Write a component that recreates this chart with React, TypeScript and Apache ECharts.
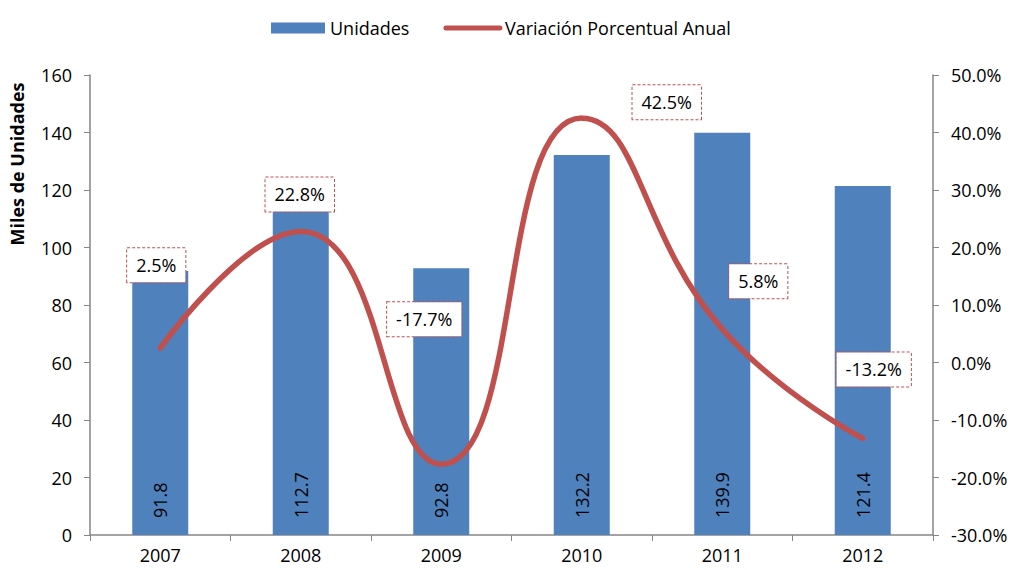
import React, { useEffect, useRef } from "react";
import * as echarts from "echarts";

const years = ["2007", "2008", "2009", "2010", "2011", "2012"];
const unidades = [91.8, 112.7, 92.8, 132.2, 139.9, 121.4];
const variacion = [2.5, 22.8, -17.7, 42.5, 5.8, -13.2];
const labelOffsets: [number, number][] = [
  [-4, -83],
  [-1, -37],
  [-17, -145],
  [85, -16],
  [36, -48],
  [11, -69],
];

const FONT = "'Open Sans', 'Noto Sans', sans-serif";
const AXIS_COLOR = "#868686";
const FS = 18;

export default function App() {
  const ref = useRef<HTMLDivElement>(null);
  useEffect(() => {
    if (!ref.current) return;
    const chart = echarts.init(ref.current, undefined, { renderer: "svg" });
    chart.setOption({
      animation: false,
      textStyle: { fontFamily: FONT },
      legend: {
        top: 14,
        left: 266,
        itemWidth: 54,
        itemHeight: 11,
        itemGap: 34,
        textStyle: { fontSize: FS, color: "#000", fontFamily: FONT },
        data: [
          { name: "Unidades", icon: "rect" },
          {
            name: "Variación Porcentual Anual",
            itemStyle: { opacity: 0 },
            lineStyle: { width: 5, cap: "round", color: "#C0504D" },
          },
        ],
      },
      graphic: [
        {
          type: "text",
          x: 17,
          y: 164,
          rotation: Math.PI / 2,
          style: {
            text: "Miles de Unidades",
            fontFamily: FONT,
            fontSize: FS,
            fontWeight: "bold",
            fill: "#000",
            textAlign: "center",
            textVerticalAlign: "middle",
          },
        },
      ],
      grid: { left: 90, right: 81, top: 75, bottom: 35 },
      xAxis: {
        type: "category",
        data: years,
        axisLine: { lineStyle: { color: AXIS_COLOR, width: 1.5 } },
        axisTick: { show: true, alignWithLabel: false, length: 6, lineStyle: { color: AXIS_COLOR } },
        axisLabel: { color: "#000", fontSize: FS, margin: 11, fontFamily: FONT },
      },
      yAxis: [
        {
          type: "value",
          min: 0,
          max: 160,
          interval: 20,
          splitLine: { show: false },
          axisLine: { show: true, lineStyle: { color: AXIS_COLOR, width: 1.5 } },
          axisTick: { show: true, length: 6, lineStyle: { color: AXIS_COLOR } },
          axisLabel: { color: "#000", fontSize: FS, margin: 18, fontFamily: FONT },
        },
        {
          type: "value",
          min: -30,
          max: 50,
          interval: 10,
          position: "right",
          splitLine: { show: false },
          axisLine: { show: true, lineStyle: { color: AXIS_COLOR, width: 1.5 } },
          axisTick: { show: true, length: 6, lineStyle: { color: AXIS_COLOR } },
          axisLabel: {
            color: "#000",
            fontSize: FS,
            margin: 18,
            fontFamily: FONT,
            formatter: (v: number) => v.toFixed(1) + "%",
          },
        },
      ],
      series: [
        {
          name: "Unidades",
          type: "bar",
          yAxisIndex: 0,
          barWidth: 56,
          data: unidades,
          itemStyle: { color: "#4F81BD" },
          label: {
            show: true,
            position: "insideBottom",
            rotate: 90,
            align: "left",
            verticalAlign: "middle",
            distance: 17,
            fontSize: FS,
            color: "#000",
            fontFamily: FONT,
            formatter: (p: any) => p.value.toFixed(1),
          },
        },
        {
          name: "Variación Porcentual Anual",
          type: "line",
          yAxisIndex: 1,
          smooth: 0.5,
          symbol: "none",
          showSymbol: false,
          lineStyle: { color: "#C0504D", width: 5.5, cap: "round" },
          itemStyle: { color: "#C0504D" },
          data: variacion,
        },
        {
          name: "etiquetas",
          type: "scatter",
          yAxisIndex: 1,
          symbolSize: 1,
          itemStyle: { color: "#C0504D", opacity: 0 },
          silent: true,
          z: 5,
          data: variacion.map((v, i) => ({
            value: v,
            label: { offset: labelOffsets[i] },
          })),
          label: {
            show: true,
            opacity: 1,
            position: "inside",
            fontSize: FS,
            lineHeight: 18,
            color: "#000",
            fontFamily: FONT,
            backgroundColor: "#ffffff",
            borderColor: "#C0504D",
            borderType: [3, 2],
            borderWidth: 1,
            padding: [8, 9, 8, 9],
            formatter: (p: any) => p.value.toFixed(1) + "%",
          },
        },
      ],
    });
    return () => chart.dispose();
  }, []);
  return <div ref={ref} style={{ width: 1014, height: 570, position: "absolute", left: 0, top: 0 }} />;
}
